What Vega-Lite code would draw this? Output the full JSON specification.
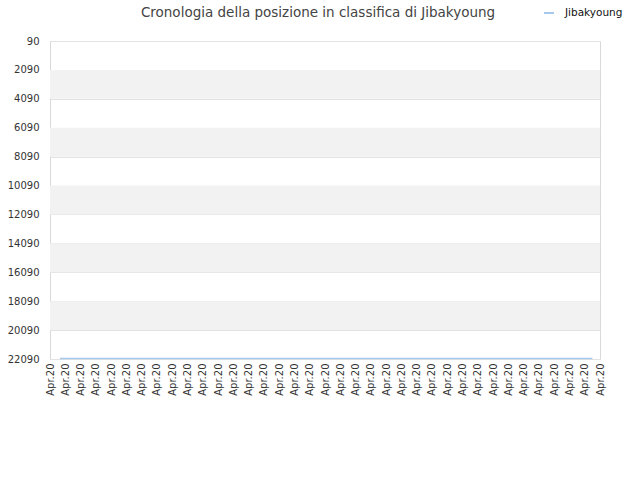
{
  "$schema": "https://vega.github.io/schema/vega-lite/v6.json",
  "autosize": "none",
  "width": 550,
  "height": 318,
  "padding": {"left": 50, "top": 41, "right": 40, "bottom": 121},
  "background": "white",
  "config": {
    "font": "DejaVu Sans",
    "view": {"stroke": "#d9d9d9", "strokeWidth": 1},
    "axisY": {"labelOverlap": false, "labelBound": false}
  },
  "title": {
    "text": "Cronologia della posizione in classifica di Jibakyoung",
    "fontSize": 13.5,
    "fontWeight": "normal",
    "color": "#444444",
    "anchor": "middle",
    "dx": -7,
    "offset": -12
  },
  "datasets": {
    "bands": [
      {"from": 2090, "to": 4090},
      {"from": 6090, "to": 8090},
      {"from": 10090, "to": 12090},
      {"from": 14090, "to": 16090},
      {"from": 18090, "to": 20090}
    ],
    "ranks": [
      {"day": 0.65, "rank": 22050, "series": "Jibakyoung"},
      {"day": 10, "rank": 22050, "series": "Jibakyoung"},
      {"day": 20, "rank": 22050, "series": "Jibakyoung"},
      {"day": 30, "rank": 22050, "series": "Jibakyoung"},
      {"day": 35.5, "rank": 22050, "series": "Jibakyoung"}
    ]
  },
  "encoding": {
    "y": {
      "type": "quantitative",
      "scale": {"domain": [90, 22090], "reverse": true, "nice": false, "zero": false},
      "axis": {
        "values": [90, 2090, 4090, 6090, 8090, 10090, 12090, 14090, 16090, 18090, 20090, 22090],
        "format": "d",
        "labelOverlap": false,
        "title": null,
        "grid": true,
        "gridColor": "#e3e3e3",
        "domain": false,
        "ticks": false,
        "labelPadding": 11,
        "labelFontSize": 10,
        "labelColor": "#333333"
      }
    }
  },
  "layer": [
    {
      "data": {"name": "bands"},
      "mark": {"type": "rect", "color": "#f2f2f2"},
      "encoding": {
        "y": {"field": "from", "type": "quantitative"},
        "y2": {"field": "to"}
      }
    },
    {
      "data": {"name": "ranks"},
      "mark": {"type": "line", "strokeWidth": 1.5},
      "encoding": {
        "x": {
          "field": "day",
          "type": "quantitative",
          "scale": {"domain": [0, 36], "nice": false, "zero": false},
          "axis": {
            "values": [0, 1, 2, 3, 4, 5, 6, 7, 8, 9, 10, 11, 12, 13, 14, 15, 16, 17, 18, 19, 20, 21, 22, 23, 24, 25, 26, 27, 28, 29, 30, 31, 32, 33, 34, 35, 36],
            "labelExpr": "'Apr.20'",
            "labelAngle": -90,
            "labelAlign": "right",
            "labelBaseline": "middle",
            "labelFontSize": 10,
            "labelColor": "#333333",
            "labelPadding": 4,
            "labelOverlap": false,
            "labelBound": false,
            "labelFlush": false,
            "title": null,
            "grid": false,
            "ticks": false,
            "domain": false
          }
        },
        "y": {"field": "rank", "type": "quantitative"},
        "color": {
          "field": "series",
          "type": "nominal",
          "scale": {"range": ["#a6c8ea"]},
          "legend": {
            "title": null,
            "orient": "none",
            "legendX": 493,
            "legendY": -34,
            "symbolType": "stroke",
            "symbolSize": 100,
            "symbolStrokeWidth": 2,
            "labelOffset": 10,
            "labelFontSize": 10.5,
            "labelColor": "#111111"
          }
        }
      }
    }
  ]
}
